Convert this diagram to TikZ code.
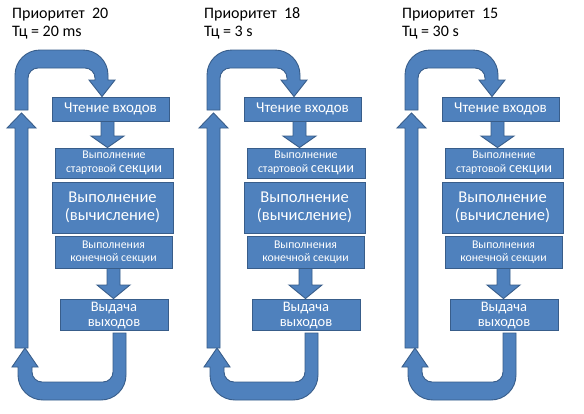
\documentclass[tikz,border=0pt]{standalone}
\usepackage{fontspec}
\setmainfont{Carlito}
\usetikzlibrary{calc}
\definecolor{fillb}{RGB}{79,129,189}
\definecolor{lineb}{RGB}{56,93,138}
\begin{document}
\begin{tikzpicture}[x=1pt,y=-1pt,
  blk/.style={fill=fillb, draw=lineb, line width=0.9pt, line join=miter},
  box/.style={rectangle, fill=fillb, draw=lineb, line width=0.9pt, text=white, inner sep=0pt, align=center},
  ttl/.style={anchor=base west, inner sep=0pt, font=\fontsize{16}{18}\selectfont}]
\fill[white] (0,0) rectangle (584,413);
\useasboundingbox (0,0) rectangle (584,413);
\foreach \dx/\i/\pr/\tc in {0/a/20/20 ms,192/b/18/3 s,390/c/15/30 s}{
\begin{scope}[xshift=\dx pt]
  \node[ttl] (p\i) at (12,18.3) {Приоритет\ \ \pr};
  \node[ttl] (t\i) at (12,36.7) {Тц = \tc};
  \node[box, minimum width=117pt, minimum height=24pt, font=\fontsize{15}{17}\selectfont] (b1\i) at (110.5,109) {Чтение входов};
  \node[box, minimum width=118pt, minimum height=30pt, font=\fontsize{11.8}{14}\selectfont] (b2\i) at (114,163) {Выполнение\\стартовой {\fontsize{14.3}{14}\selectfont секции}};
  \node[box, minimum width=121pt, minimum height=51pt, font=\fontsize{16.5}{18}\selectfont] (b3\i) at (112.5,207.5) {Выполнение\\(вычисление)};
  \node[box, minimum width=117pt, minimum height=32pt, font=\fontsize{11.8}{13.5}\selectfont] (b4\i) at (113.5,252) {Выполнения\\конечной секции};
  \node[box, minimum width=108pt, minimum height=31pt, font=\fontsize{14.5}{15}\selectfont] (b5\i) at (114,314.5) {\raisebox{-5.5pt}[0pt][0pt]{\begin{tabular}{@{}c@{}}Выдача\\выходов\end{tabular}}};
  % top U-turn arrow into b1
  \filldraw[blk] (15,110) -- (15,75) .. controls (15,61.2) and (26.2,50) .. (40,50)
    -- (83,50) .. controls (96.8,50) and (108,61.2) .. (108,75) -- (108,80) -- (115,80)
    -- (102,0 |- b1\i.north) -- (89,80) -- (95,80) -- (95,78) .. controls (95,72.5) and (90.5,68) .. (85,68)
    -- (38,68) .. controls (32.5,68) and (28,72.5) .. (28,78) -- (28,110) -- cycle;
  % b1 -> b2
  \filldraw[blk] (101,0 |- b1\i.south) -- (114,0 |- b1\i.south) -- (114,136) -- (124,136)
    -- (107.5,0 |- b2\i.north) -- (91,136) -- (101,136) -- cycle;
  % b4 -> b5
  \filldraw[blk] (107,0 |- b4\i.south) -- (120,0 |- b4\i.south) -- (120,285) -- (130,285)
    -- (113.5,0 |- b5\i.north) -- (97,285) -- (107,285) -- cycle;
  % bottom U-turn arrow from b5
  \filldraw[blk] (126,333) -- (126,375) .. controls (126,388.8) and (114.8,400) .. (101,400)
    -- (43,400) .. controls (29.2,400) and (18,388.8) .. (18,375) -- (18,367) -- (12,367)
    -- (25,348) -- (38,367) -- (32,367) -- (32,372) .. controls (32,377.5) and (36.5,382) .. (42,382)
    -- (103,382) .. controls (108.5,382) and (113,377.5) .. (113,372) -- (113,333) -- cycle;
  % long return arrow
  \filldraw[blk] (15,348) -- (15,128) -- (7,128) -- (21.5,113) -- (36,128) -- (28,128) -- (28,348) -- cycle;
\end{scope}
}
\end{tikzpicture}
\end{document}
